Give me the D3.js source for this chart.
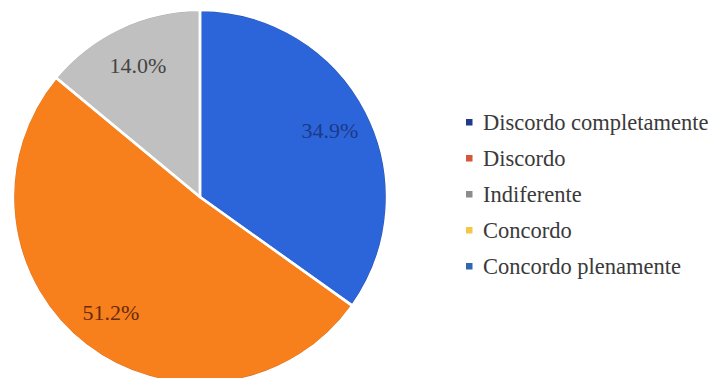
<!DOCTYPE html>
<html>
<head>
<meta charset="utf-8" />
<script src="https://d3js.org/d3.v7.min.js"></script>
</head>
<body style="margin:0; background:#fff">
<svg id="chart" width="713" height="378" font-family="'Liberation Serif', 'Times New Roman', Times, serif"></svg>
<script>
// pie slices, clockwise from 12 o'clock
var sliceNames = ["Concordo plenamente", "Discordo", "Indiferente"];
var sliceValues = [34.9, 51.2, 14.0];
var sliceColors = ["#2c64da", "#f7801c", "#c0c0c0"];
var sliceEdges = ["#1c3f9a", "#c8600e", "#9a9a9a"];
var labelColors = ["#1b3a88", "#6a2a0c", "#444444"];

// legend
var legendNames = ["Discordo completamente", "Discordo", "Indiferente", "Concordo", "Concordo plenamente"];
var legendColors = ["#1f3a8a", "#d4573a", "#8c8c8c", "#f2c84b", "#2f68b0"];

var svg = d3.select("#chart");
var cx = 200, cy = 197, radius = 187;

var pie = d3.pie().sort(null).value(function(d) { return d; });
var arcs = pie(sliceValues);

var arc = d3.arc().innerRadius(0).outerRadius(radius);
var rim = d3.arc().innerRadius(radius - 1.5).outerRadius(radius);
var labelArc = d3.arc().innerRadius(146).outerRadius(146);

var g = svg.append("g").attr("transform", "translate(" + cx + "," + cy + ")");

g.selectAll(".slice")
  .data(arcs)
  .enter().append("path")
  .attr("class", "slice")
  .attr("d", arc)
  .attr("fill", function(d, i) { return sliceColors[i]; });

g.selectAll(".rim")
  .data(arcs)
  .enter().append("path")
  .attr("class", "rim")
  .attr("d", rim)
  .attr("fill", function(d, i) { return sliceEdges[i]; });

// white separators
g.selectAll(".sep")
  .data(arcs)
  .enter().append("path")
  .attr("class", "sep")
  .attr("d", arc)
  .attr("fill", "none")
  .attr("stroke", "#fff")
  .attr("stroke-width", 2.5)
  .attr("stroke-linejoin", "round");

g.selectAll(".label")
  .data(arcs)
  .enter().append("text")
  .attr("class", "label")
  .attr("transform", function(d) {
    var c = labelArc.centroid(d);
    return "translate(" + c[0] + "," + c[1] + ")";
  })
  .attr("text-anchor", "middle")
  .attr("dy", "0.35em")
  .attr("font-size", 22)
  .attr("fill", function(d, i) { return labelColors[i]; })
  .text(function(d) { return d.value.toFixed(1) + "%"; });

// legend
var y = d3.scalePoint().domain(legendNames).range([122, 266]);

var legend = svg.append("g").attr("class", "legend");
var rows = legend.selectAll("g")
  .data(legendNames)
  .enter().append("g")
  .attr("transform", function(d) { return "translate(466," + y(d) + ")"; });

rows.append("rect")
  .attr("x", 0).attr("y", -3)
  .attr("width", 6.5).attr("height", 6.5)
  .attr("fill", function(d, i) { return legendColors[i]; });

rows.append("text")
  .attr("x", 17)
  .attr("dy", "0.35em")
  .attr("font-size", 22.5)
  .attr("fill", "#3a3a3a")
  .text(function(d) { return d; });
</script>
</body>
</html>
